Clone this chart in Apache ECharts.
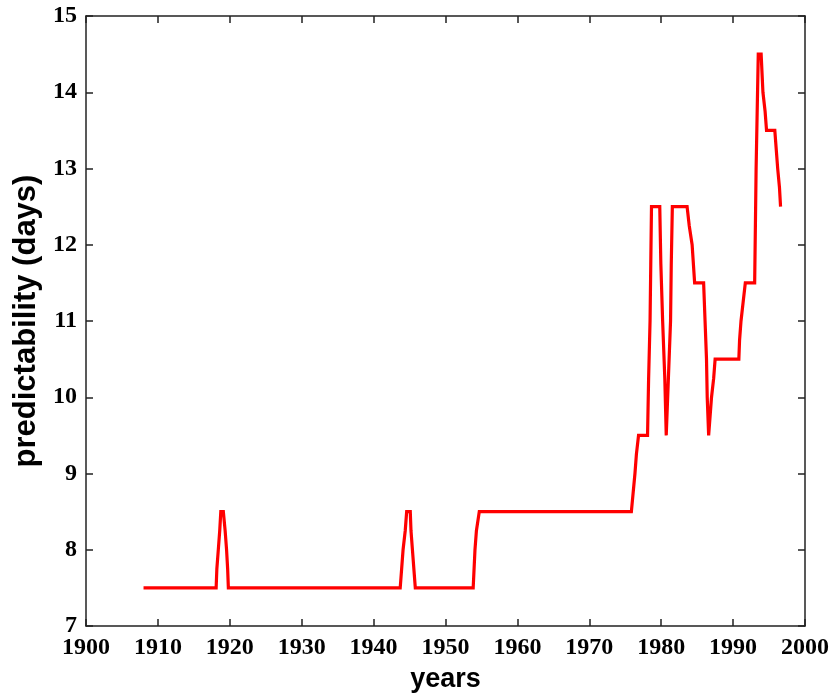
<!DOCTYPE html>
<html>
<head>
<meta charset="utf-8">
<script src="https://cdn.jsdelivr.net/npm/echarts@6/dist/echarts.min.js"></script>
<style>
  html, body { margin: 0; padding: 0; background: #fff; }
  #chart { width: 837px; height: 698px; }
</style>
</head>
<body>
<div id="chart"></div>
<script>
// Predictability (days) over time, as [year, value] vertices of the curve
const years = [
  1908, 1918.1, 1918.2, 1918.4, 1918.6, 1918.75, 1919.1, 1919.35, 1919.55, 1919.7, 1919.8,
  1943.7, 1943.9, 1944.1, 1944.4, 1944.6, 1945.1, 1945.2, 1945.4, 1945.6, 1945.8,
  1953.85, 1954.1, 1954.3, 1954.7,
  1975.85, 1976.1, 1976.35, 1976.55, 1976.85,
  1978.1, 1978.25, 1978.45, 1978.55, 1978.65,
  1979.8, 1979.95, 1980.2, 1980.5, 1980.7,
  1981.0, 1981.3, 1981.4, 1981.55,
  1983.6, 1983.9, 1984.3, 1984.65,
  1985.9, 1986.1, 1986.3, 1986.4, 1986.6,
  1987.0, 1987.3, 1987.5,
  1990.8, 1990.9, 1991.1, 1991.4, 1991.7,
  1993.0, 1993.1, 1993.2, 1993.35, 1993.5,
  1993.9, 1994.15, 1994.45, 1994.65,
  1995.8, 1996.0, 1996.2, 1996.45, 1996.6
];
const predictability = [
  7.5, 7.5, 7.75, 8.0, 8.25, 8.5, 8.5, 8.25, 8.0, 7.75, 7.5,
  7.5, 7.75, 8.0, 8.25, 8.5, 8.5, 8.25, 8.0, 7.75, 7.5,
  7.5, 8.0, 8.25, 8.5,
  8.5, 8.75, 9.0, 9.25, 9.5,
  9.5, 10.25, 11.0, 11.75, 12.5,
  12.5, 11.75, 11.0, 10.25, 9.5,
  10.25, 11.0, 11.75, 12.5,
  12.5, 12.25, 12.0, 11.5,
  11.5, 11.0, 10.5, 10.0, 9.5,
  10.0, 10.25, 10.5,
  10.5, 10.75, 11.0, 11.25, 11.5,
  11.5, 12.25, 13.0, 13.75, 14.5,
  14.5, 14.0, 13.75, 13.5,
  13.5, 13.25, 13.0, 12.75, 12.5
];

const xTicks = { min: 1900, max: 2000, step: 10 };
const yTicks = { min: 7, max: 15, step: 1 };

const points = years.map((y, i) => [y, predictability[i]]);

const axisColor = '#222';
const tickFont = { fontFamily: 'Liberation Serif', fontWeight: 'bold', fontSize: 24, color: '#000' };
const plain = v => String(v);

const chart = echarts.init(document.getElementById('chart'), null, { renderer: 'canvas' });
chart.setOption({
  animation: false,
  backgroundColor: '#fff',
  grid: { left: 86, right: 32, top: 16, bottom: 70 },
  xAxis: [
    {
      type: 'value', position: 'bottom',
      min: xTicks.min, max: xTicks.max, interval: xTicks.step,
      name: 'years', nameLocation: 'middle', nameGap: 40,
      nameTextStyle: { fontFamily: 'Liberation Sans', fontWeight: 'bold', fontSize: 27, color: '#000' },
      axisLine: { show: true, lineStyle: { color: axisColor, width: 1.5 } },
      axisTick: { show: true, inside: true, length: 7, lineStyle: { color: axisColor, width: 1.5 } },
      axisLabel: Object.assign({ margin: 10, formatter: plain }, tickFont),
      splitLine: { show: false }
    },
    {
      type: 'value', position: 'top',
      min: xTicks.min, max: xTicks.max, interval: xTicks.step,
      axisLine: { show: true, lineStyle: { color: axisColor, width: 1.5 } },
      axisTick: { show: true, inside: true, length: 7, lineStyle: { color: axisColor, width: 1.5 } },
      axisLabel: { show: false },
      splitLine: { show: false }
    }
  ],
  yAxis: [
    {
      type: 'value', position: 'left',
      min: yTicks.min, max: yTicks.max, interval: yTicks.step,
      name: 'predictability (days)', nameLocation: 'middle', nameGap: 42,
      nameTextStyle: { fontFamily: 'Liberation Sans', fontWeight: 'bold', fontSize: 31, color: '#000' },
      axisLine: { show: true, lineStyle: { color: axisColor, width: 1.5 } },
      axisTick: { show: true, inside: true, length: 7, lineStyle: { color: axisColor, width: 1.5 } },
      axisLabel: Object.assign({ margin: 9, formatter: plain }, tickFont),
      splitLine: { show: false }
    },
    {
      type: 'value', position: 'right',
      min: yTicks.min, max: yTicks.max, interval: yTicks.step,
      axisLine: { show: true, lineStyle: { color: axisColor, width: 1.5 } },
      axisTick: { show: true, inside: true, length: 7, lineStyle: { color: axisColor, width: 1.5 } },
      axisLabel: { show: false },
      splitLine: { show: false }
    }
  ],
  series: [
    {
      type: 'line',
      xAxisIndex: 0, yAxisIndex: 0,
      data: points,
      showSymbol: false,
      smooth: false,
      lineStyle: { color: '#ff0000', width: 3.2, join: 'miter' }
    }
  ]
});
</script>
</body>
</html>
